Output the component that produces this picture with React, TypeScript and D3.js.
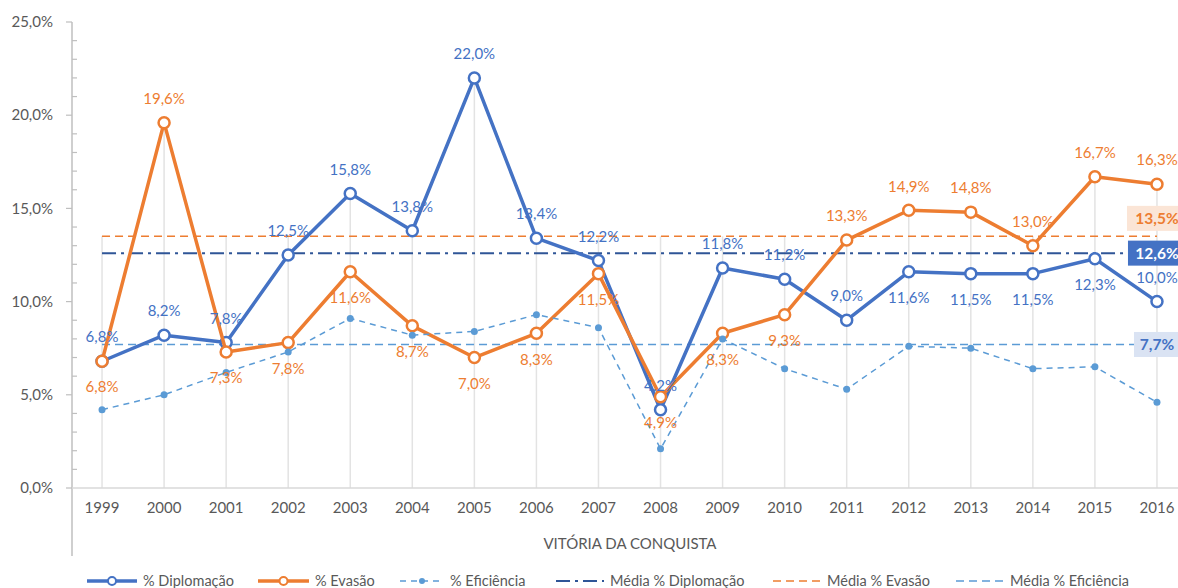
import React from "react";
import * as d3 from "d3";

// anos (categorias)
const years = ["1999", "2000", "2001", "2002", "2003", "2004", "2005", "2006", "2007", "2008", "2009", "2010", "2011", "2012", "2013", "2014", "2015", "2016"];

// séries em %
const diplomacao = [6.8, 8.2, 7.8, 12.5, 15.8, 13.8, 22.0, 13.4, 12.2, 4.2, 11.8, 11.2, 9.0, 11.6, 11.5, 11.5, 12.3, 10.0];
const evasao = [6.8, 19.6, 7.3, 7.8, 11.6, 8.7, 7.0, 8.3, 11.5, 4.9, 8.3, 9.3, 13.3, 14.9, 14.8, 13.0, 16.7, 16.3];
const eficiencia = [4.2, 5.0, 6.2, 7.3, 9.1, 8.2, 8.4, 9.3, 8.6, 2.1, 8.0, 6.4, 5.3, 7.6, 7.5, 6.4, 6.5, 4.6];

// médias
const mediaDiplomacao = 12.6;
const mediaEvasao = 13.5;
const mediaEficiencia = 7.7;

// a = rótulo acima, b = abaixo
const dipLabelPos = ["a", "a", "a", "a", "a", "a", "a", "a", "a", "a", "a", "a", "a", "b", "b", "b", "b", "a"];
const evaLabelPos = ["b", "a", "b", "b", "b", "b", "b", "b", "b", "b", "b", "b", "a", "a", "a", "a", "a", "a"];

const yTicks = [0, 5, 10, 15, 20, 25];
const yMinorTicks = d3.range(0, 26, 1).filter((v) => v % 5 !== 0);

const W = 1178;
const H = 588;
const FONT = "Lato, 'Open Sans', sans-serif";
const BLUE = "#4472C4";
const ORANGE = "#ED7D31";
const LIGHTBLUE = "#5B9BD5";
const DARKBLUE = "#2F5597";
const GRAY = "#595959";

const fmt = (v: number) => v.toFixed(1).replace(".", ",") + "%";

export default function App() {
  const x = d3.scaleBand().domain(years).range([71, 1188]).padding(0);
  const cx = (yr: string) => (x(yr) as number) + x.bandwidth() / 2;
  const y = d3.scaleLinear().domain([0, 25]).range([488, 22]);

  const line = d3
    .line<number>()
    .x((d, i) => cx(years[i]))
    .y((d) => y(d));

  const xFirst = cx(years[0]);
  const xLast = cx(years[years.length - 1]);

  // drop lines: do maior valor até o eixo
  const dropTop = years.map((yr, i) =>
    Math.max(diplomacao[i], evasao[i], eficiencia[i], mediaDiplomacao, mediaEvasao, mediaEficiencia)
  );

  const legend = [
    { label: "% Diplomação", color: BLUE, x0: 87, w: 50, dash: "", width: 3.5, marker: "open" },
    { label: "% Evasão", color: ORANGE, x0: 258, w: 51, dash: "", width: 3.5, marker: "open" },
    { label: "% Eficiência", color: LIGHTBLUE, x0: 400, w: 44, dash: "6,5", width: 1.5, marker: "dot" },
    { label: "Média % Diplomação", color: DARKBLUE, x0: 556, w: 48, dash: "14,5,3,5", width: 2, marker: "" },
    { label: "Média % Evasão", color: ORANGE, x0: 773, w: 48, dash: "8,5", width: 1.5, marker: "" },
    { label: "Média % Eficiência", color: LIGHTBLUE, x0: 956, w: 48, dash: "8,5", width: 1.5, marker: "" },
  ];

  const avgLabels = [
    { v: mediaEvasao, cy: y(mediaEvasao) - 18, fill: "#FBE5D6", color: ORANGE, w: 60 },
    { v: mediaDiplomacao, cy: y(mediaDiplomacao), fill: BLUE, color: "#FFFFFF", w: 58 },
    { v: mediaEficiencia, cy: y(mediaEficiencia), fill: "#DAE3F3", color: BLUE, w: 46 },
  ];

  return (
    <svg width={W} height={H} style={{ position: "absolute", left: 0, top: 0, background: "#fff" }} fontFamily={FONT}>
      {/* drop lines */}
      {years.map((yr, i) => (
        <line key={"drop" + yr} x1={cx(yr)} x2={cx(yr)} y1={y(dropTop[i])} y2={y(0)} stroke="#E3E3E3" strokeWidth={1.5} />
      ))}

      {/* eixos */}
      <line x1={72} x2={72} y1={y(25)} y2={556} stroke="#BFBFBF" strokeWidth={1.5} />
      <line x1={72} x2={W} y1={y(0)} y2={y(0)} stroke="#D9D9D9" strokeWidth={1.5} />
      {yTicks.map((t) => (
        <g key={"yt" + t}>
          <line x1={66} x2={72} y1={y(t)} y2={y(t)} stroke="#BFBFBF" strokeWidth={1.2} />
          <text x={53} y={y(t)} dy="0.35em" textAnchor="end" fontSize={15} fill={GRAY}>
            {t.toFixed(1).replace(".", ",") + "%"}
          </text>
        </g>
      ))}
      {yMinorTicks.map((t) => (
        <line key={"ym" + t} x1={72} x2={77} y1={y(t)} y2={y(t)} stroke="#BFBFBF" strokeWidth={1.2} />
      ))}
      {years.map((yr) => (
        <text key={"xl" + yr} x={cx(yr)} y={508} dy="0.35em" textAnchor="middle" fontSize={15} fill={GRAY}>
          {yr}
        </text>
      ))}
      <text x={630} y={544} dy="0.35em" textAnchor="middle" fontSize={15} fill={GRAY}>
        VITÓRIA DA CONQUISTA
      </text>

      {/* médias */}
      <line x1={xFirst} x2={xLast} y1={y(mediaEficiencia)} y2={y(mediaEficiencia)} stroke={LIGHTBLUE} strokeWidth={1.5} strokeDasharray="8,5" />
      <line x1={xFirst} x2={xLast} y1={y(mediaEvasao)} y2={y(mediaEvasao)} stroke={ORANGE} strokeWidth={1.5} strokeDasharray="8,5" />
      <line x1={xFirst} x2={xLast} y1={y(mediaDiplomacao)} y2={y(mediaDiplomacao)} stroke={DARKBLUE} strokeWidth={2} strokeDasharray="14,5,3,5" />

      {/* séries */}
      <path d={line(diplomacao) as string} fill="none" stroke={BLUE} strokeWidth={3.5} strokeLinejoin="round" />
      {diplomacao.map((v, i) => (
        <circle key={"dm" + i} cx={cx(years[i])} cy={y(v)} r={5.5} fill="#fff" stroke={BLUE} strokeWidth={2.5} />
      ))}
      <path d={line(evasao) as string} fill="none" stroke={ORANGE} strokeWidth={3.5} strokeLinejoin="round" />
      {evasao.map((v, i) => (
        <circle key={"em" + i} cx={cx(years[i])} cy={y(v)} r={5.5} fill="#fff" stroke={ORANGE} strokeWidth={2.5} />
      ))}
      <path d={line(eficiencia) as string} fill="none" stroke={LIGHTBLUE} strokeWidth={1.5} strokeDasharray="6,5" />
      {eficiencia.map((v, i) => (
        <circle key={"fm" + i} cx={cx(years[i])} cy={y(v)} r={3.5} fill={LIGHTBLUE} />
      ))}

      {/* rótulos */}
      {diplomacao.map((v, i) => (
        <text key={"dl" + i} x={cx(years[i])} y={y(v) + (dipLabelPos[i] === "a" ? -24 : 26)} dy="0.35em" textAnchor="middle" fontSize={15} fill={BLUE}>
          {fmt(v)}
        </text>
      ))}
      {evasao.map((v, i) => (
        <text key={"el" + i} x={cx(years[i])} y={y(v) + (evaLabelPos[i] === "a" ? -24 : 26)} dy="0.35em" textAnchor="middle" fontSize={15} fill={ORANGE}>
          {fmt(v)}
        </text>
      ))}

      {avgLabels.map((a) => (
        <g key={"avg" + a.v}>
          <rect x={xLast - a.w / 2} y={a.cy - 12.5} width={a.w} height={25} fill={a.fill} />
          <text x={xLast} y={a.cy} dy="0.35em" textAnchor="middle" fontSize={15.5} fontWeight="bold" fill={a.color}>
            {fmt(a.v)}
          </text>
        </g>
      ))}

      {/* legenda */}
      {legend.map((l) => (
        <g key={l.label}>
          <line x1={l.x0} x2={l.x0 + l.w} y1={581} y2={581} stroke={l.color} strokeWidth={l.width} strokeDasharray={l.dash || undefined} />
          {l.marker === "open" && <circle cx={l.x0 + l.w / 2} cy={581} r={4} fill="#fff" stroke={l.color} strokeWidth={2} />}
          {l.marker === "dot" && <circle cx={l.x0 + l.w / 2} cy={581} r={3} fill={l.color} />}
          <text x={l.x0 + l.w + 6} y={581} dy="0.35em" fontSize={14.5} fill={GRAY}>
            {l.label}
          </text>
        </g>
      ))}
    </svg>
  );
}
